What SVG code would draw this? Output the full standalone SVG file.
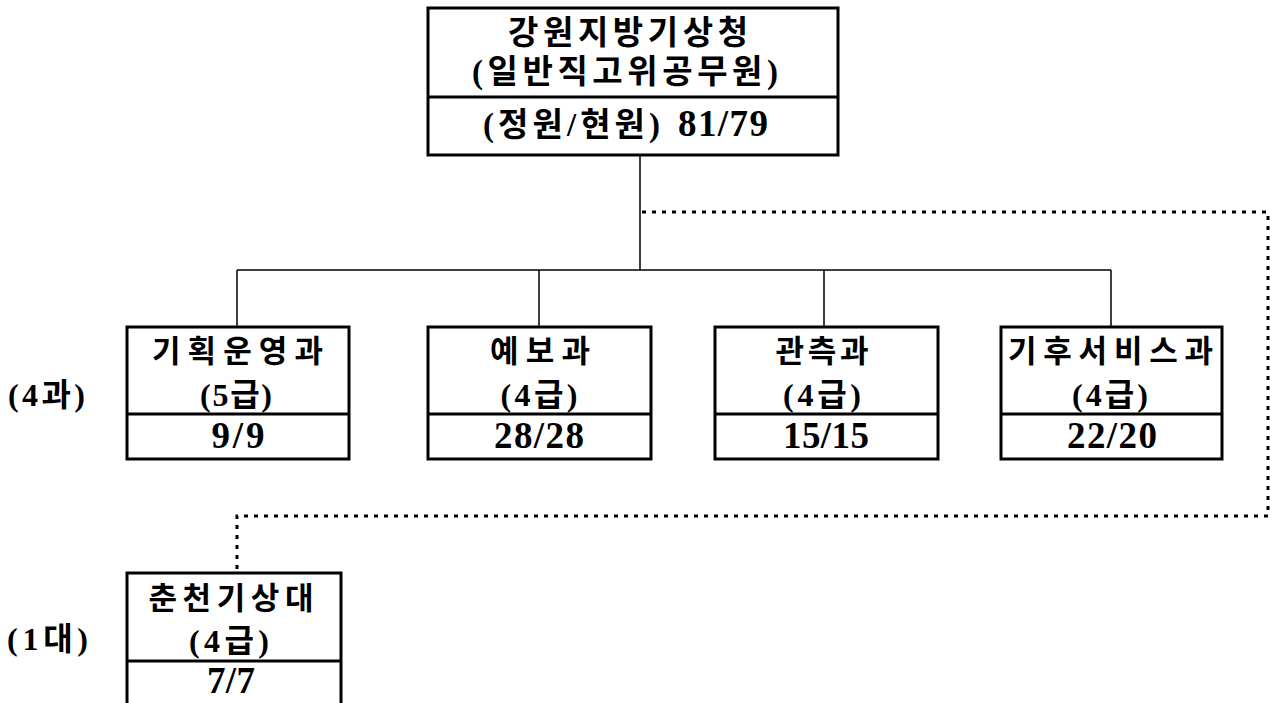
<svg xmlns="http://www.w3.org/2000/svg" width="1273" height="703" viewBox="0 0 1273 703">
<style>
text{font-family:"Liberation Serif","Noto Sans CJK KR",serif;font-weight:bold;font-size:31px;fill:#000;text-anchor:middle}
.t1{font-size:33px}
.l2{font-size:32px}
.num{font-size:37px}
.lbl{text-anchor:start;font-size:32px}
.box{fill:#fff;stroke:#000;stroke-width:3}
.div{stroke:#000;stroke-width:3}
.con{fill:none;stroke:#000;stroke-width:1.5}
.dot{fill:none;stroke:#000;stroke-width:3;stroke-dasharray:4 6}
</style>
<rect width="1273" height="703" fill="#fff"/>
<g id="connectors">
<path class="con" d="M640,155 V270 M237,270 H1111 M237,270 V327 M539,270 V327 M824,270 V327 M1111,270 V327"/>
<path class="dot" d="M642,212 H1268 V516 H237 V572"/>
</g>
<g id="hq">
<rect class="box" x="428" y="8" width="410" height="147"/>
<line class="div" x1="428" y1="97" x2="838" y2="97"/>
<text class="t1" x="628" y="44" textLength="240" lengthAdjust="spacing">강원지방기상청</text>
<text class="t1" x="625" y="83" textLength="306" lengthAdjust="spacing">(일반직고위공무원)</text>
<text class="t1" x="571.5" y="136" textLength="177" lengthAdjust="spacing">(정원/현원)</text>
<text class="num" x="723" y="136" textLength="90" lengthAdjust="spacing">81/79</text>
</g>
<g id="dept1">
<rect class="box" x="127" y="327" width="222" height="132"/>
<line class="div" x1="127" y1="414" x2="349" y2="414"/>
<text x="237.5" y="362" textLength="171" lengthAdjust="spacing">기획운영과</text>
<text class="l2" x="236" y="406" textLength="72" lengthAdjust="spacing">(5급)</text>
<text class="num" x="238" y="448" textLength="53" lengthAdjust="spacing">9/9</text>
</g>
<g id="dept2">
<rect class="box" x="428" y="327" width="223" height="132"/>
<line class="div" x1="428" y1="414" x2="651" y2="414"/>
<text x="540" y="362" textLength="100" lengthAdjust="spacing">예보과</text>
<text class="l2" x="539" y="406" textLength="77" lengthAdjust="spacing">(4급)</text>
<text class="num" x="539" y="448" textLength="90" lengthAdjust="spacing">28/28</text>
</g>
<g id="dept3">
<rect class="box" x="715" y="327" width="223" height="132"/>
<line class="div" x1="715" y1="414" x2="938" y2="414"/>
<text x="822" y="362" textLength="93" lengthAdjust="spacing">관측과</text>
<text class="l2" x="822" y="406" textLength="78" lengthAdjust="spacing">(4급)</text>
<text class="num" x="826" y="448" textLength="86" lengthAdjust="spacing">15/15</text>
</g>
<g id="dept4">
<rect class="box" x="1001" y="327" width="221" height="132"/>
<line class="div" x1="1001" y1="414" x2="1222" y2="414"/>
<text x="1110.5" y="362" textLength="205" lengthAdjust="spacing">기후서비스과</text>
<text class="l2" x="1110" y="406" textLength="76" lengthAdjust="spacing">(4급)</text>
<text class="num" x="1112" y="448" textLength="90" lengthAdjust="spacing">22/20</text>
</g>
<g id="station">
<rect class="box" x="127" y="573" width="214" height="140"/>
<line class="div" x1="127" y1="661" x2="341" y2="661"/>
<text x="231" y="609" textLength="165" lengthAdjust="spacing">춘천기상대</text>
<text class="l2" x="229" y="652" textLength="80" lengthAdjust="spacing">(4급)</text>
<text class="num" x="231" y="693" textLength="48" lengthAdjust="spacing">7/7</text>
</g>
<g id="labels">
<text class="lbl" x="8" y="406" textLength="77" lengthAdjust="spacing">(4과)</text>
<text class="lbl" x="7" y="650" textLength="81" lengthAdjust="spacing">(1대)</text>
</g>
</svg>
